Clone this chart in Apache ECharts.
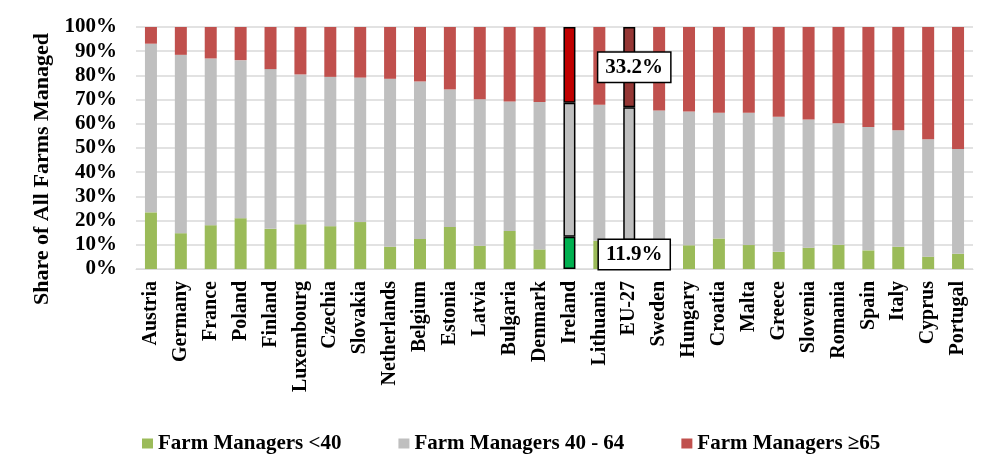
<!DOCTYPE html>
<html lang="en">
  <head>
    <meta charset="UTF-8" />
    <title>Farm Managers by Age</title>
    <script src="https://cdn.jsdelivr.net/npm/echarts@6.0.0/dist/echarts.min.js"></script>
    <style>
      html, body { margin: 0; padding: 0; background: #fff; }
    </style>
  </head>
  <body>
    <div id="main" style="width: 1000px; height: 474px"></div>
    <script type="text/javascript">
      const countries = [
        "Austria", "Germany", "France", "Poland", "Finland", "Luxembourg", "Czechia",
        "Slovakia", "Netherlands", "Belgium", "Estonia", "Latvia", "Bulgaria", "Denmark",
        "Ireland", "Lithuania", "EU-27", "Sweden", "Hungary", "Croatia", "Malta",
        "Greece", "Slovenia", "Romania", "Spain", "Italy", "Cyprus", "Portugal"
      ];
      const under40 = [
        23.4, 14.8, 18.1, 21.0, 16.6, 18.5, 17.7, 19.4, 9.2, 12.4, 17.4, 9.6, 15.7, 8.1,
        13.3, 11.7, 11.9, 10.0, 9.8, 12.6, 9.9, 7.1, 8.8, 10.0, 7.7, 9.2, 5.1, 6.3
      ];
      const from40to64 = [
        69.7, 73.7, 68.9, 65.3, 66.0, 61.9, 61.7, 59.7, 69.4, 65.1, 56.8, 60.5, 53.5, 60.9,
        55.4, 56.2, 54.9, 55.5, 55.3, 52.0, 54.7, 55.8, 53.0, 50.2, 51.0, 48.1, 48.5, 43.3
      ];
      const over65 = [
        6.9, 11.5, 13.0, 13.7, 17.4, 19.6, 20.6, 20.9, 21.4, 22.5, 25.8, 29.9, 30.8, 31.0,
        31.3, 32.1, 33.2, 34.5, 34.9, 35.4, 35.4, 37.1, 38.2, 39.8, 41.3, 42.7, 46.4, 50.4
      ];
      const seriesNames = ["Farm Managers <40", "Farm Managers 40 - 64", "Farm Managers \u226565"];

      const font = "'Times New Roman', 'Liberation Serif', serif";
      const boxLabel = {
        show: true,
        formatter: "{c}%",
        position: "inside",
        offset: [5, 0],
        color: "#000",
        fontFamily: font,
        fontWeight: "bold",
        fontSize: 21,
        backgroundColor: "#fff",
        borderColor: "#000",
        borderWidth: 1.5,
        padding: [5, 7, 3, 7]
      };

      // Ireland and EU-27 get their own colours and outlines
      function styled(values, colors, withLabel) {
        return values.map((v, i) => {
          const name = countries[i];
          if (name === "Ireland") {
            return { value: v, itemStyle: { color: colors.ie, borderColor: "#000", borderWidth: 1.5 } };
          }
          if (name === "EU-27") {
            const item = { value: v, itemStyle: { color: colors.eu, borderColor: "#000", borderWidth: 1.5 } };
            if (withLabel) item.label = boxLabel;
            return item;
          }
          return v;
        });
      }

      const chart = echarts.init(document.getElementById("main"));

      const option = {
        animation: false,
        textStyle: { fontFamily: font },
        grid: { left: 136, right: 27, top: 27, bottom: 205, containLabel: false },
        legend: {
          left: 137,
          top: 428,
          icon: "rect",
          itemWidth: 11,
          itemHeight: 10,
          itemGap: 57,
          textStyle: { fontFamily: font, fontWeight: "bold", fontSize: 21, color: "#000" },
          data: seriesNames
        },
        xAxis: {
          type: "category",
          data: countries,
          axisLine: { lineStyle: { color: "#d9d9d9" } },
          axisTick: { show: false },
          axisLabel: {
            rotate: 90,
            interval: 0,
            margin: 12,
            color: "#000",
            fontFamily: font,
            fontWeight: "bold",
            fontSize: 20
          }
        },
        yAxis: {
          type: "value",
          min: 0,
          max: 100,
          interval: 10,
          name: "Share of All Farms Managed",
          nameLocation: "middle",
          nameGap: 82,
          nameTextStyle: {
            fontFamily: font,
            fontWeight: "bold",
            fontSize: 22,
            color: "#000",
            padding: [0, 42, 0, 0]
          },
          axisLabel: {
            formatter: "{value}%",
            margin: 19,
            color: "#000",
            fontFamily: font,
            fontWeight: "bold",
            fontSize: 21
          },
          splitLine: { lineStyle: { color: "#d9d9d9", width: 1.5 } }
        },
        series: [
          {
            name: seriesNames[0],
            type: "bar",
            stack: "all",
            barWidth: 12,
            itemStyle: { color: "#9bbb59" },
            data: styled(under40, { ie: "#00b050", eu: "#00b050" }, true)
          },
          {
            name: seriesNames[1],
            type: "bar",
            stack: "all",
            barWidth: 12,
            itemStyle: { color: "#bfbfbf" },
            data: styled(from40to64, { ie: "#bfbfbf", eu: "#bfbfbf" }, false)
          },
          {
            name: seriesNames[2],
            type: "bar",
            stack: "all",
            barWidth: 12,
            itemStyle: { color: "#c0504d" },
            data: styled(over65, { ie: "#c00000", eu: "#953735" }, true)
          }
        ]
      };

      chart.setOption(option);
    </script>
  </body>
</html>
